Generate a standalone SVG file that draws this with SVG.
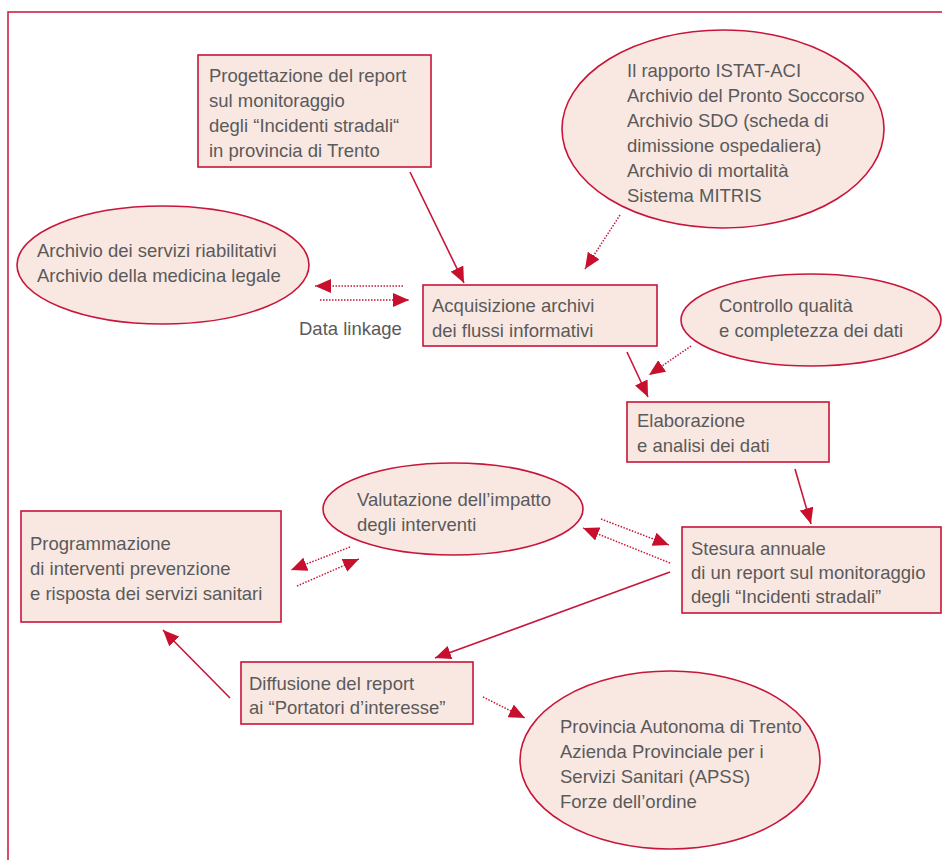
<svg xmlns="http://www.w3.org/2000/svg" width="942" height="860" viewBox="0 0 942 860">
<style>
.n{fill:#f9e8e2;stroke:#c8153a;stroke-width:1.6}
.t{font-family:"Liberation Sans",Arial,sans-serif;font-size:18.5px;fill:#5a5a5a}
.s{fill:none;stroke:#c8153a;stroke-width:1.6}
.d{fill:none;stroke:#c8153a;stroke-width:1.5;stroke-dasharray:1.5 1.5}
</style>
<defs>
<marker id="ah" markerUnits="userSpaceOnUse" markerWidth="18" markerHeight="14" refX="16" refY="7" orient="auto">
<path d="M0,0 L16,7 L0,14 z" fill="#c8102e"/>
</marker>
</defs>
<rect x="8" y="12" width="1000" height="1000" fill="none" stroke="#c8153a" stroke-width="1.5"/>
<g id="progettazione">
<rect class="n" x="198" y="55" width="233" height="112"/>
<text class="t"><tspan x="209" y="82">Progettazione del report</tspan><tspan x="209" y="107">sul monitoraggio</tspan><tspan x="209" y="132">degli “Incidenti stradali“</tspan><tspan x="209" y="157">in provincia di Trento</tspan></text>
</g>
<g id="istat">
<ellipse class="n" cx="723" cy="129" rx="161" ry="99"/>
<text class="t"><tspan x="627" y="77">Il rapporto ISTAT-ACI</tspan><tspan x="627" y="102">Archivio del Pronto Soccorso</tspan><tspan x="627" y="127">Archivio SDO (scheda di</tspan><tspan x="627" y="152">dimissione ospedaliera)</tspan><tspan x="627" y="177">Archivio di mortalità</tspan><tspan x="627" y="202">Sistema MITRIS</tspan></text>
</g>
<g id="archivio-servizi">
<ellipse class="n" cx="163" cy="265" rx="146" ry="59"/>
<text class="t"><tspan x="37" y="257">Archivio dei servizi riabilitativi</tspan><tspan x="37" y="282">Archivio della medicina legale</tspan></text>
</g>
<g id="acquisizione">
<rect class="n" x="423" y="285" width="234" height="61"/>
<text class="t"><tspan x="432" y="312">Acquisizione archivi</tspan><tspan x="432" y="337">dei flussi informativi</tspan></text>
</g>
<g id="controllo">
<ellipse class="n" cx="811" cy="320" rx="130" ry="46"/>
<text class="t"><tspan x="719" y="312">Controllo qualità</tspan><tspan x="719" y="337">e completezza dei dati</tspan></text>
</g>
<g id="elaborazione">
<rect class="n" x="627" y="402" width="202" height="60"/>
<text class="t"><tspan x="637" y="427">Elaborazione</tspan><tspan x="637" y="452">e analisi dei dati</tspan></text>
</g>
<g id="valutazione">
<ellipse class="n" cx="453" cy="509" rx="130" ry="46"/>
<text class="t"><tspan x="357" y="506">Valutazione dell’impatto</tspan><tspan x="357" y="531">degli interventi</tspan></text>
</g>
<g id="stesura">
<rect class="n" x="682" y="527" width="259" height="86"/>
<text class="t"><tspan x="691" y="555">Stesura annuale</tspan><tspan x="691" y="579">di un report sul monitoraggio</tspan><tspan x="691" y="603">degli “Incidenti stradali”</tspan></text>
</g>
<g id="programmazione">
<rect class="n" x="21" y="511" width="260" height="111"/>
<text class="t"><tspan x="30" y="550">Programmazione</tspan><tspan x="30" y="575">di interventi prevenzione</tspan><tspan x="30" y="600">e risposta dei servizi sanitari</tspan></text>
</g>
<g id="diffusione">
<rect class="n" x="241" y="662" width="232" height="62"/>
<text class="t"><tspan x="249" y="690">Diffusione del report</tspan><tspan x="249" y="714">ai “Portatori d’interesse”</tspan></text>
</g>
<g id="provincia">
<ellipse class="n" cx="670" cy="760" rx="150" ry="89"/>
<text class="t"><tspan x="560" y="733">Provincia Autonoma di Trento</tspan><tspan x="560" y="758">Azienda Provinciale per i</tspan><tspan x="560" y="783">Servizi Sanitari (APSS)</tspan><tspan x="560" y="808">Forze dell’ordine</tspan></text>
</g>
<text class="t" x="299" y="335">Data linkage</text>
<g id="connectors">
<path class="s" d="M410,172 L464,283" marker-end="url(#ah)"/>
<path class="d" d="M620,215 L585,269" marker-end="url(#ah)"/>
<path class="d" d="M403,286 L315,286" marker-end="url(#ah)"/>
<path class="d" d="M320,300 L409,300" marker-end="url(#ah)"/>
<path class="s" d="M627,352 L648,397" marker-end="url(#ah)"/>
<path class="d" d="M691,346 L649,375" marker-end="url(#ah)"/>
<path class="s" d="M795,469 L811,524" marker-end="url(#ah)"/>
<path class="d" d="M601,519 L669,545" marker-end="url(#ah)"/>
<path class="d" d="M670,563 L583,528" marker-end="url(#ah)"/>
<path class="d" d="M350,547 L291,570" marker-end="url(#ah)"/>
<path class="d" d="M297,586 L359,559" marker-end="url(#ah)"/>
<path class="s" d="M670,572 L435,658" marker-end="url(#ah)"/>
<path class="s" d="M230,698 L163,630" marker-end="url(#ah)"/>
<path class="d" d="M483,697 L525,718" marker-end="url(#ah)"/>
</g>
</svg>
